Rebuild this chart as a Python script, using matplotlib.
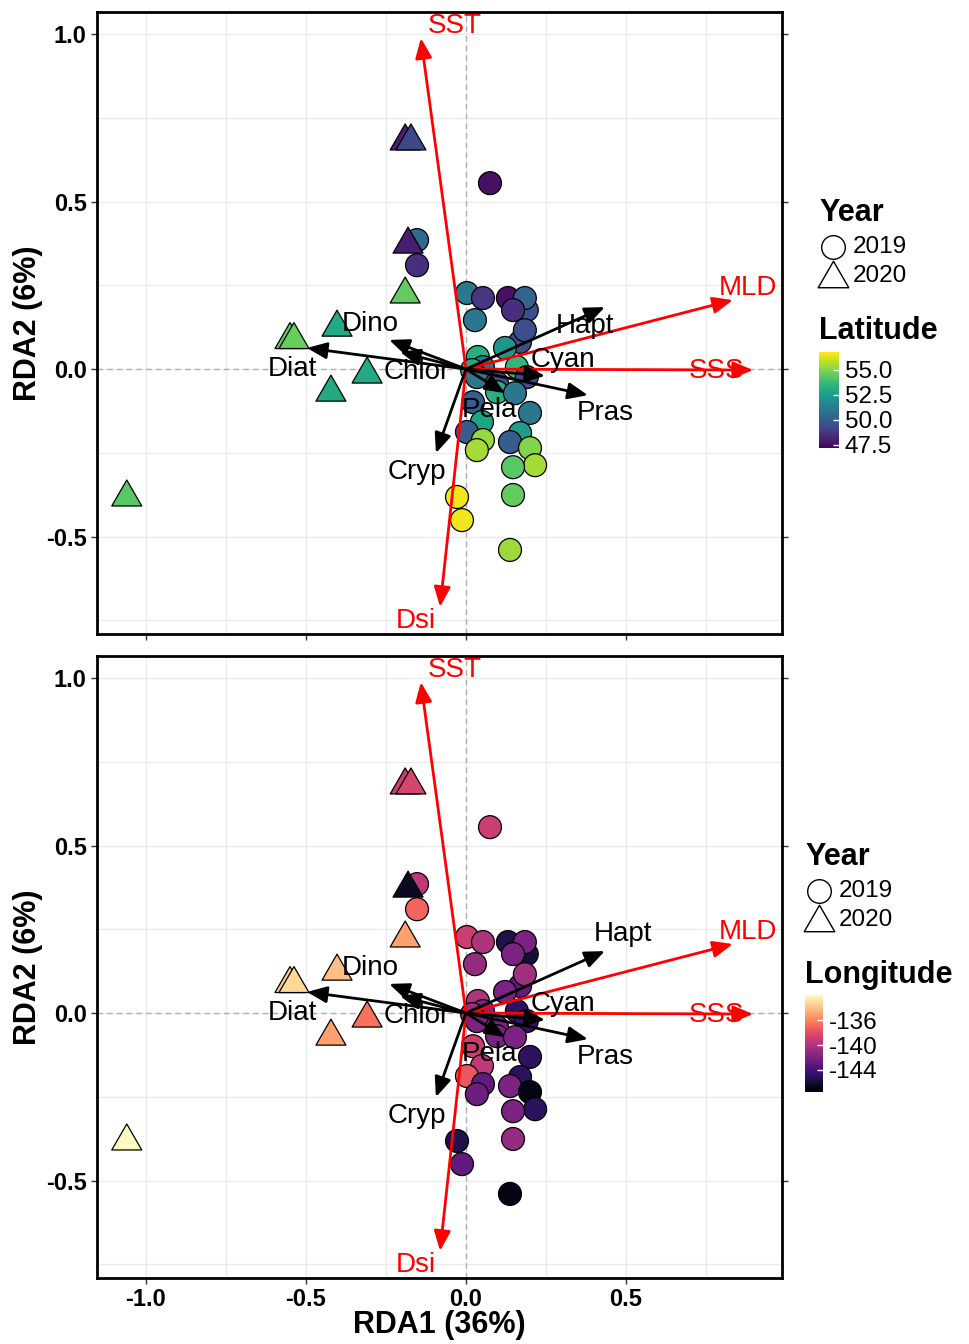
import numpy as np
import matplotlib
matplotlib.use("Agg")
import matplotlib.pyplot as plt
from matplotlib.path import Path
from matplotlib.colors import Normalize
from matplotlib.cm import ScalarMappable

plt.rcParams["font.family"] = ["Liberation Sans", "DejaVu Sans"]
plt.rcParams["axes.unicode_minus"] = False

# site scores, 2019 (circles)
c_x = [0.19, 0.075, -0.153, -0.153, 0.003, 0.053, 0.028, 0.131, 0.184, 0.147,
       0.169, 0.184, 0.122, 0.037, 0.159, 0.053, 0.019, 0.19, 0.034, 0.097,
       0.097, 0.153, 0.022, 0.2, 0.05, 0.169, 0.003, 0.053, 0.1375, 0.034,
       0.2, 0.216, 0.147, 0.147, -0.028, -0.0125, 0.1375]
c_y = [0.176, 0.555, 0.385, 0.31, 0.227, 0.212, 0.146, 0.212, 0.212, 0.176,
       0.081, 0.116, 0.063, 0.036, 0.006, 0.006, -0.003, -0.024, -0.024, -0.042,
       -0.069, -0.072, -0.099, -0.131, -0.158, -0.191, -0.188, -0.212, -0.218, -0.242,
       -0.236, -0.287, -0.293, -0.376, -0.382, -0.451, -0.54]
c_lat = [49.5, 47.6, 50.5, 48.5, 51.0, 48.7, 51.0, 47.6, 50.2, 48.5,
         49.5, 49.5, 52.3, 53.3, 53.5, 51.0, 53.0, 49.5, 51.0, 49.5,
         53.3, 51.0, 50.0, 51.0, 52.8, 52.5, 50.0, 55.3, 50.0, 55.5,
         55.0, 55.5, 54.3, 54.5, 56.6, 56.6, 55.4]
c_lon = [-146, -139, -139.5, -137, -139, -140, -141, -145.5, -142, -142,
         -143, -140.5, -142, -140, -145, -142, -141, -144.5, -142, -142,
         -142, -142, -139, -145, -139.5, -145, -137.5, -143, -142, -142.5,
         -147, -145, -142, -141, -145.5, -143, -147]

# site scores, 2020 (triangles)
t_x = [-0.19, -0.172, -0.181, -0.19, -0.55, -0.5375, -0.403, -0.309, -0.422, -1.06]
t_y = [0.693, 0.693, 0.385, 0.236, 0.10, 0.10, 0.137, -0.003, -0.057, -0.37]
t_lat = [48.0, 49.3, 48.0, 54.5, 54.5, 54.6, 53.0, 53.0, 53.0, 54.3]
t_lon = [-139.0, -138.5, -146.5, -135.0, -133.5, -133.2, -134.0, -136.5, -135.0, -132.0]

# species arrows
spp = ["Hapt", "Cyan", "Pras", "Pela", "Cryp", "Chlor", "Dino", "Diat"]
spp_x = [0.434, 0.247, 0.381, 0.122, -0.094, -0.206, -0.24, -0.497]
spp_y = [0.185, -0.02, -0.078, -0.072, -0.251, 0.051, 0.087, 0.063]
spp_lx = [0.372, 0.303, 0.434, 0.075, -0.153, -0.153, -0.30, -0.544]
spp_ly = [0.128, 0.027, -0.131, -0.122, -0.307, -0.009, 0.134, 0.0]
hapt_lab_bottom = (0.49, 0.236)

# environmental arrows
env = ["SST", "Dsi", "MLD", "SSS"]
env_x = [-0.141, -0.081, 0.834, 0.897]
env_y = [0.988, -0.71, 0.206, -0.003]
env_lx = [-0.034, -0.156, 0.881, 0.784]
env_ly = [1.024, -0.752, 0.242, -0.006]

tri = Path([(-1, -0.866), (1, -0.866), (0, 0.866), (-1, -0.866)],
           [Path.MOVETO, Path.LINETO, Path.LINETO, Path.CLOSEPOLY])

W, H = 970, 1344
fig = plt.figure(figsize=(W / 100, H / 100), dpi=100)


def px(l, t, r, b):
    return [l / W, 1 - b / H, (r - l) / W, (b - t) / H]


def panel(ax, cvals, tvals, cmap, norm, hapt_pos, show_x):
    ax.set_xlim(-1.153, 0.9875)
    ax.set_ylim(-0.791, 1.066)
    ax.set_xticks([-1.0, -0.5, 0.0, 0.5])
    ax.set_xticks([-0.75, -0.25, 0.25, 0.75], minor=True)
    ax.set_yticks([-0.5, 0.0, 0.5, 1.0])
    ax.set_yticks([-0.75, -0.25, 0.25, 0.75], minor=True)
    ax.grid(which="both", color="#EBEBEB", lw=1)
    ax.set_axisbelow(True)
    ax.axhline(0, color="#B0B0B0", ls=(0, (4, 3)), lw=1, zorder=1)
    ax.axvline(0, color="#B0B0B0", ls=(0, (4, 3)), lw=1, zorder=1)

    ax.scatter(c_x, c_y, c=cvals, cmap=cmap, norm=norm, s=16.5 ** 2,
               marker="o", edgecolors="black", linewidths=0.9, zorder=2)
    ax.scatter(t_x, t_y, c=tvals, cmap=cmap, norm=norm, s=21.6 ** 2,
               marker=tri, edgecolors="black", linewidths=0.9, zorder=2)

    for i in range(len(env)):
        ax.annotate("", xy=(env_x[i], env_y[i]), xytext=(0, 0),
                    arrowprops=dict(arrowstyle="-|>,head_length=0.6,head_width=0.25",
                                    color="#FF0000", lw=2, shrinkA=0, shrinkB=0,
                                    mutation_scale=20), zorder=3)
    for i in range(len(spp)):
        ax.annotate("", xy=(spp_x[i], spp_y[i]), xytext=(0, 0),
                    arrowprops=dict(arrowstyle="-|>,head_length=0.6,head_width=0.25",
                                    color="black", lw=2, shrinkA=0, shrinkB=0,
                                    mutation_scale=20), zorder=3)
    for i in range(len(env)):
        ax.text(env_lx[i], env_ly[i], env[i], color="#FF0000", fontsize=20,
                ha="center", va="center", zorder=4)
    for i in range(len(spp)):
        lx, ly = spp_lx[i], spp_ly[i]
        if spp[i] == "Hapt":
            lx, ly = hapt_pos
        ax.text(lx, ly, spp[i], color="black", fontsize=20,
                ha="center", va="center", zorder=4)

    for s in ax.spines.values():
        s.set_linewidth(2)
    ax.tick_params(which="major", direction="out", length=4, width=1,
                   right=True, labelsize=17, color="#333333")
    ax.tick_params(which="minor", length=0)
    for lab in ax.get_yticklabels() + ax.get_xticklabels():
        lab.set_fontweight("bold")
    if not show_x:
        ax.tick_params(axis="x", labelbottom=False)


lat_norm = Normalize(47.2, 56.8)
lon_norm = Normalize(-147.6, -131.9)

ax1 = fig.add_axes(px(97, 12, 782, 634))
panel(ax1, c_lat, t_lat, "viridis", lat_norm, (spp_lx[0], spp_ly[0]), False)
ax2 = fig.add_axes(px(97, 656, 782, 1278))
panel(ax2, c_lon, t_lon, "magma", lon_norm, hapt_lab_bottom, True)

fig.text(28 / W, 1 - 323 / H, "RDA2 (6%)", rotation=90, fontsize=22,
         fontweight="bold", ha="center", va="center")
fig.text(28 / W, 1 - 967 / H, "RDA2 (6%)", rotation=90, fontsize=22,
         fontweight="bold", ha="center", va="center")
fig.text(439 / W, 1 - 1325 / H, "RDA1 (36%)", fontsize=22,
         fontweight="bold", ha="center", va="center")

# legends
lg = fig.add_axes([0, 0, 1, 1])
lg.set_xlim(0, W)
lg.set_ylim(H, 0)
lg.axis("off")


def year_legend(x0, y0, title):
    lg.text(x0, y0, "Year", fontsize=22, fontweight="bold", ha="left", va="center")
    lg.scatter([x0 + 14], [y0 + 34], s=17 ** 2, marker="o", facecolors="white",
               edgecolors="black", linewidths=1)
    lg.scatter([x0 + 14], [y0 + 61], s=22 ** 2, marker=tri, facecolors="white",
               edgecolors="black", linewidths=1)
    lg.text(x0 + 34, y0 + 34, "2019", fontsize=17.5, ha="left", va="center")
    lg.text(x0 + 34, y0 + 63, "2020", fontsize=17.5, ha="left", va="center")
    lg.text(x0, y0 + 118, title, fontsize=22, fontweight="bold", ha="left", va="center")


year_legend(819, 213, "Latitude")
year_legend(805, 857, "Longitude")

cax1 = fig.add_axes(px(819, 352, 839, 448))
cb1 = fig.colorbar(ScalarMappable(norm=lat_norm, cmap="viridis"), cax=cax1,
                   ticks=[47.5, 50.0, 52.5, 55.0])
cb1.set_ticklabels(["47.5", "50.0", "52.5", "55.0"])
cax2 = fig.add_axes(px(805, 995, 823, 1092))
cb2 = fig.colorbar(ScalarMappable(norm=lon_norm, cmap="magma"), cax=cax2,
                   ticks=[-144, -140, -136])
cb2.set_ticklabels(["-144", "-140", "-136"])
for cb in (cb1, cb2):
    cb.outline.set_visible(False)
    cb.ax.tick_params(direction="in", color="white", length=4, width=1,
                      labelsize=17.5, pad=4)

fig.savefig("out.png", dpi=100)
